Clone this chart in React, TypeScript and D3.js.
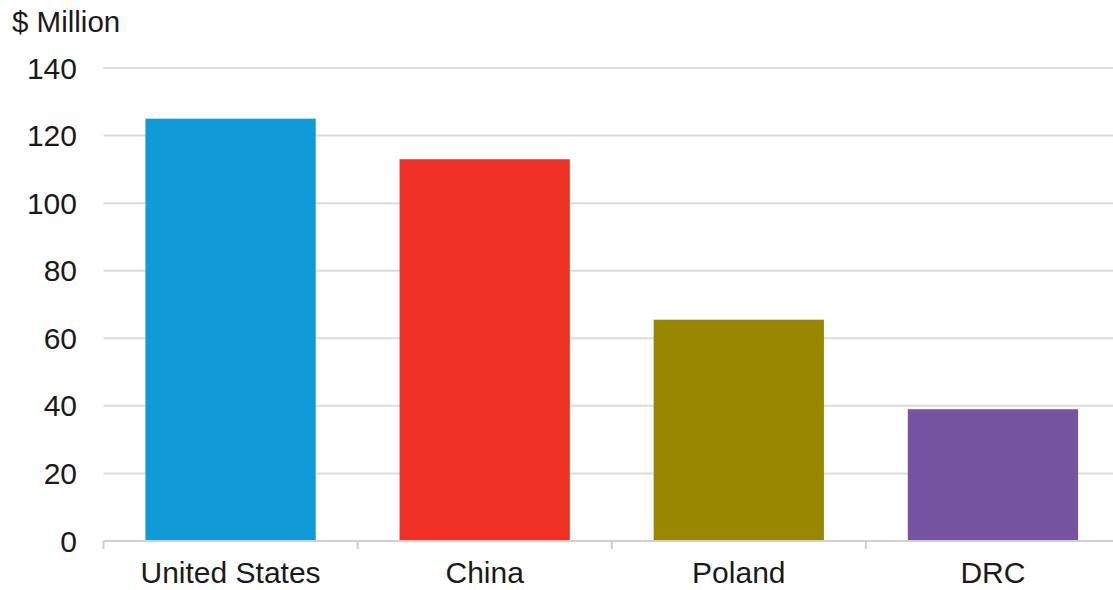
import React from "react";
import * as d3 from "d3";

const categories = ["United States", "China", "Poland", "DRC"];
const values = [125, 113, 65.5, 39];
const colors = ["#109ad7", "#ee3124", "#9a8700", "#7653a1"];
const yTicks = [0, 20, 40, 60, 80, 100, 120, 140];
const yTitle = "$ Million";

export default function App() {
  const W = 1113, H = 590;
  const x0 = 103.5, x1 = 1120;
  const yTop = 68, yBot = 541;
  const x = d3.scaleBand<string>().domain(categories).range([x0, x1]).padding(0);
  const y = d3.scaleLinear().domain([0, 140]).range([yBot, yTop]);
  const bw = x.bandwidth() * 0.67;
  const font = "Liberation Sans, Arial, sans-serif";
  return (
    <svg width={W} height={H} style={{ position: "absolute", left: 0, top: 0, background: "#fff" }} fontFamily={font}>
      <text x={12} y={32} fontSize={29.5} fill="#1a1a1a">{yTitle}</text>
      {yTicks.map((t) => (
        <g key={t}>
          {t > 0 && <line x1={x0} x2={W} y1={y(t)} y2={y(t)} stroke="#dcdcdc" strokeWidth={2} />}
          <text x={77} y={y(t)} dy="0.35em" textAnchor="end" fontSize={30} fill="#1a1a1a">{t}</text>
        </g>
      ))}
      {categories.map((c, i) => (
        <rect key={c} x={(x(c) as number) + (x.bandwidth() - bw) / 2} y={y(values[i])} width={bw} height={y(0) - y(values[i])} fill={colors[i]} />
      ))}
      <line x1={x0} x2={W} y1={yBot} y2={yBot} stroke="#cfcfcf" strokeWidth={2} />
      {[0, 1, 2, 3].map((i) => (
        <line key={i} x1={x0 + i * x.step()} x2={x0 + i * x.step()} y1={yBot} y2={yBot + 8} stroke="#cfcfcf" strokeWidth={2} />
      ))}
      {categories.map((c) => (
        <text key={c} x={(x(c) as number) + x.bandwidth() / 2} y={583} textAnchor="middle" fontSize={30} fill="#1a1a1a">{c}</text>
      ))}
    </svg>
  );
}
